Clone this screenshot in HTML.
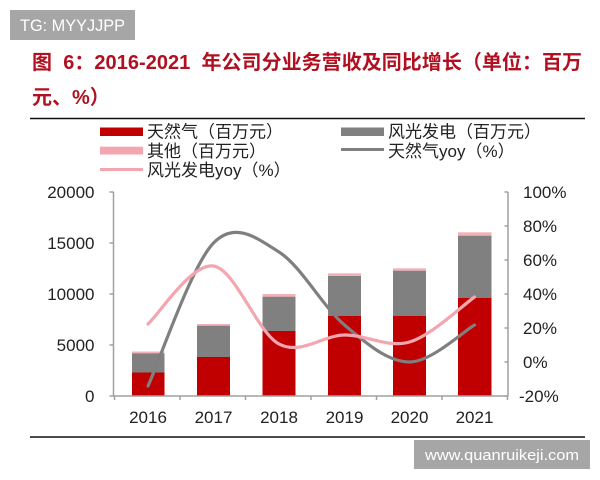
<!DOCTYPE html>
<html>
<head>
<meta charset="utf-8">
<style>
html,body{margin:0;padding:0;background:#fff;}
svg{display:block;}
text{font-family:"Liberation Sans","Noto Sans CJK SC",sans-serif;}
</style>
</head>
<body>
<svg width="600" height="480" viewBox="0 0 600 480" xmlns="http://www.w3.org/2000/svg">
<rect x="0" y="0" width="600" height="480" fill="#fff"/>
<!-- TG box -->
<rect x="10" y="10" width="125" height="30" fill="#a6a6a6"/>
<text x="20" y="31" font-size="17" fill="#fff" textLength="105" lengthAdjust="spacingAndGlyphs">TG: MYYJJPP</text>
<!-- Title -->
<text x="32" y="69" font-size="20" font-weight="bold" fill="#b01020" textLength="550" lengthAdjust="spacing" xml:space="preserve">图  6：2016-2021  年公司分业务营收及同比增长（单位：百万</text>
<text x="32" y="104" font-size="20" font-weight="bold" fill="#b01020">元、%）</text>
<line x1="30" y1="118.5" x2="585" y2="118.5" stroke="#111" stroke-width="1.6"/>
<!-- Legend -->
<rect x="100" y="127.5" width="43" height="8.5" fill="#c00000"/>
<text x="147" y="137.5" font-size="17" fill="#222">天然气（百万元）</text>
<rect x="341" y="127.5" width="43" height="8.5" fill="#808080"/>
<text x="388" y="137.5" font-size="17" fill="#222">风光发电（百万元）</text>
<rect x="100" y="146.7" width="43" height="7.8" fill="#f4a6b0"/>
<text x="147" y="157" font-size="17" fill="#222">其他（百万元）</text>
<line x1="341" y1="149.5" x2="384" y2="149.5" stroke="#7f7f7f" stroke-width="3"/>
<text x="388" y="157" font-size="17" fill="#222">天然气yoy（%）</text>
<line x1="100" y1="169.5" x2="143" y2="169.5" stroke="#f4a6b0" stroke-width="3"/>
<text x="147" y="176" font-size="17" fill="#222">风光发电yoy（%）</text>

<!-- Bars -->
<g>
<rect x="132" y="351.5" width="32.5" height="1.8" fill="#f4b0b8"/>
<rect x="132" y="353.3" width="32.5" height="19.2" fill="#808080"/>
<rect x="132" y="372.5" width="32.5" height="23.5" fill="#c00000"/>

<rect x="197" y="324" width="33" height="1.7" fill="#f4b0b8"/>
<rect x="197" y="325.7" width="33" height="31.3" fill="#808080"/>
<rect x="197" y="357" width="33" height="39" fill="#c00000"/>

<rect x="262.5" y="294" width="33" height="2.7" fill="#f4b0b8"/>
<rect x="262.5" y="296.7" width="33" height="34.3" fill="#808080"/>
<rect x="262.5" y="331" width="33" height="65" fill="#c00000"/>

<rect x="328" y="273.3" width="33" height="2.7" fill="#f4b0b8"/>
<rect x="328" y="276" width="33" height="40" fill="#808080"/>
<rect x="328" y="316" width="33" height="80" fill="#c00000"/>

<rect x="393" y="268.3" width="33" height="2.4" fill="#f4b0b8"/>
<rect x="393" y="270.7" width="33" height="45.3" fill="#808080"/>
<rect x="393" y="316" width="33" height="80" fill="#c00000"/>

<rect x="458" y="232.3" width="33.5" height="3.4" fill="#f4b0b8"/>
<rect x="458" y="235.7" width="33.5" height="62.3" fill="#808080"/>
<rect x="458" y="298" width="33.5" height="98" fill="#c00000"/>
</g>

<!-- Axes -->
<g stroke="#a0a0a0" stroke-width="1.5" fill="none">
<line x1="113.5" y1="192" x2="113.5" y2="396"/>
<line x1="508" y1="192" x2="508" y2="396"/>
<line x1="113" y1="396" x2="508.5" y2="396"/>
<line x1="109.5" y1="192" x2="113.5" y2="192"/>
<line x1="109.5" y1="243" x2="113.5" y2="243"/>
<line x1="109.5" y1="294" x2="113.5" y2="294"/>
<line x1="109.5" y1="345" x2="113.5" y2="345"/>
<line x1="109.5" y1="396" x2="113.5" y2="396"/>
<line x1="504.5" y1="192" x2="508" y2="192"/>
<line x1="504.5" y1="226" x2="508" y2="226"/>
<line x1="504.5" y1="260" x2="508" y2="260"/>
<line x1="504.5" y1="294" x2="508" y2="294"/>
<line x1="504.5" y1="328" x2="508" y2="328"/>
<line x1="504.5" y1="362" x2="508" y2="362"/>
<line x1="504.5" y1="396" x2="508" y2="396"/>
<line x1="114.5" y1="396" x2="114.5" y2="400"/>
<line x1="180" y1="396" x2="180" y2="400"/>
<line x1="245.5" y1="396" x2="245.5" y2="400"/>
<line x1="311" y1="396" x2="311" y2="400"/>
<line x1="376.5" y1="396" x2="376.5" y2="400"/>
<line x1="442" y1="396" x2="442" y2="400"/>
<line x1="507.5" y1="396" x2="507.5" y2="400"/>
</g>

<!-- Lines -->
<path d="M148,386 C158.9,362.2 191.7,265.3 213.5,243 C235.3,220.7 257.2,238.3 279,252 C300.8,265.7 322.75,306.7 344.5,325 C366.25,343.3 387.8,362 409.5,362 C431.2,362 463.7,331.2 474.5,325" fill="none" stroke="#7f7f7f" stroke-width="3.2" stroke-linecap="round"/>
<path d="M148,324 C158.9,314.2 191.7,262.7 213.5,266 C235.3,269.3 257.2,332.5 279,344 C300.8,355.5 322.75,335.3 344.5,335 C366.25,334.7 387.8,348.3 409.5,342 C431.2,335.7 463.7,304.5 474.5,297" fill="none" stroke="#f4a6b0" stroke-width="3.2" stroke-linecap="round"/>

<!-- Left labels -->
<g font-size="17" fill="#222" text-anchor="end">
<text x="94.5" y="198">20000</text>
<text x="94.5" y="249">15000</text>
<text x="94.5" y="300">10000</text>
<text x="94.5" y="351">5000</text>
<text x="94.5" y="402">0</text>
</g>
<!-- Right labels -->
<g font-size="17" fill="#222">
<text x="523" y="198">100%</text>
<text x="523" y="232">80%</text>
<text x="523" y="266">60%</text>
<text x="523" y="300">40%</text>
<text x="523" y="334">20%</text>
<text x="523" y="368">0%</text>
<text x="519" y="402">-20%</text>
</g>
<!-- X labels -->
<g font-size="17" fill="#222" text-anchor="middle">
<text x="148" y="423">2016</text>
<text x="213.5" y="423">2017</text>
<text x="279" y="423">2018</text>
<text x="344.5" y="423">2019</text>
<text x="409.5" y="423">2020</text>
<text x="474.5" y="423">2021</text>
</g>

<line x1="30" y1="437" x2="585" y2="437" stroke="#111" stroke-width="1.6"/>
<!-- watermark -->
<rect x="414" y="440" width="176" height="29" fill="#a6a6a6"/>
<text x="425" y="460" font-size="15" fill="#fff" textLength="154" lengthAdjust="spacingAndGlyphs">www.quanruikeji.com</text>
</svg>
</body>
</html>
